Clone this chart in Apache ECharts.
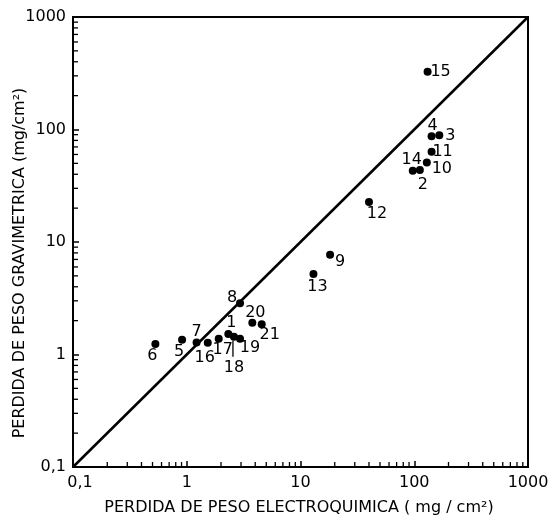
<!DOCTYPE html>
<html>
<head>
<meta charset="utf-8">
<script src="https://cdn.jsdelivr.net/npm/echarts@6/dist/echarts.min.js"></script>
<style>html,body{margin:0;padding:0;background:#fff;}#c{width:548px;height:523px;}</style>
</head>
<body>
<div id="c"></div>
<script>
// ---- data ----
var ids  = ['1','2','3','4','5','6','7','8','9','10','11','12','13','14','15','16','17','18','19','20','21'];
var elec = [2.32, 112, 166, 142, 0.91, 0.53, 1.22, 2.94, 18.2, 129, 142, 40, 13.0, 97, 131, 1.53, 1.91, 2.60, 2.94, 3.77, 4.56];
var grav = [1.52, 43.6, 89, 87, 1.35, 1.24, 1.28, 2.85, 7.7, 51, 63.5, 22.7, 5.2, 43, 326, 1.27, 1.38, 1.44, 1.38, 1.92, 1.86];
var diagonal = [[0.1, 0.1], [1000, 1000]];
var tickLabels = {0.1: '0,1', 1: '1', 10: '10', 100: '100', 1000: '1000'};

// ---- styling (label offsets in px, dx/dy from point centre) ----
var labelOffsets = [[3,-11],[3,15],[11,1],[1,-10],[-3,12],[-3,12],[0,-11],[-8,-5],[10,7],[15,6],[11,0],[8,12],[4,13],[-1,-11],[13,0],[-3,15],[4,11],[0,31],[10,9],[3,-10],[8,11]];

var FONT = '"DejaVu Sans", Verdana, sans-serif';
var minorTicks = [];
[-1,0,1,2].forEach(function(k){ for (var m=2;m<=9;m++) minorTicks.push(m*Math.pow(10,k)); });

var pts = ids.map(function(id,i){
  return {name:id, value:[elec[i], grav[i]], label:{offset:labelOffsets[i]}};
});

function fmt(v){
  var key = v < 0.5 ? 0.1 : Math.round(v);
  return tickLabels[key] !== undefined ? tickLabels[key] : '';
}

var chart = echarts.init(document.getElementById('c'), null, {renderer:'canvas'});
chart.setOption({
  animation:false,
  backgroundColor:'#fff',
  grid:{left:73,right:20,top:17,bottom:56,containLabel:false,outerBoundsMode:'none',show:true,borderColor:'#000',borderWidth:2,backgroundColor:'transparent'},
  xAxis:{type:'log',logBase:10,min:0.1,max:1000,
    axisLine:{show:true,lineStyle:{color:'#000',width:2}},
    axisTick:{show:true,inside:true,length:6,lineStyle:{color:'#000',width:1.5}},
    splitLine:{show:false},
    axisLabel:{color:'#000',fontSize:16,fontFamily:FONT,margin:8,
      formatter:function(v){ return v<0.5 ? '{a|' + fmt(v) + '}' : fmt(v); },
      rich:{a:{fontSize:16,fontFamily:FONT,color:'#000',padding:[0,0,0,14]}}}
  },
  yAxis:{type:'log',logBase:10,min:0.1,max:1000,
    axisLine:{show:true,lineStyle:{color:'#000',width:2}},
    axisTick:{show:true,inside:true,length:6,lineStyle:{color:'#000',width:1.5}},
    splitLine:{show:false},
    axisLabel:{color:'#000',fontSize:16,fontFamily:FONT,margin:7,formatter:fmt}
  },
  graphic:[
    {type:'text',x:299,y:508,style:{text:'PERDIDA DE PESO ELECTROQUIMICA ( mg / cm²)',align:'center',verticalAlign:'middle',fontSize:16,fontFamily:FONT,fill:'#000'}},
    {type:'text',x:20,y:263,rotation:Math.PI/2,style:{text:'PERDIDA DE PESO GRAVIMETRICA (mg/cm²)',align:'center',verticalAlign:'middle',fontSize:16,fontFamily:FONT,fill:'#000'}}
  ],
  series:[
    {type:'line',data:diagonal,symbol:'none',lineStyle:{color:'#000',width:2.5},silent:true,z:2},
    {type:'custom',silent:true,data:minorTicks.map(function(v){return [v,v];}),
      renderItem:function(params,api){
        var v = api.value(0);
        var px = api.coord([v,0.1]);
        var py = api.coord([0.1,v]);
        return {type:'group',children:[
          {type:'line',shape:{x1:px[0],y1:px[1],x2:px[0],y2:px[1]-5},style:{stroke:'#000',lineWidth:1.3}},
          {type:'line',shape:{x1:py[0],y1:py[1],x2:py[0]+5,y2:py[1]},style:{stroke:'#000',lineWidth:1.3}}
        ]};
      },z:3},
    {type:'custom',silent:true,data:[[elec[17],grav[17]]],
      renderItem:function(params,api){
        var p = api.coord([api.value(0),api.value(1)]);
        return {type:'line',shape:{x1:p[0]-1,y1:p[1]+4,x2:p[0]-1,y2:p[1]+20},style:{stroke:'#000',lineWidth:1.3}};
      },z:4},
    {type:'scatter',data:pts,symbol:'circle',symbolSize:8,itemStyle:{color:'#000',opacity:1},z:5,
      label:{show:true,position:'inside',formatter:'{b}',color:'#000',opacity:1,fontSize:16,fontFamily:FONT}}
  ]
});
</script>
</body>
</html>
